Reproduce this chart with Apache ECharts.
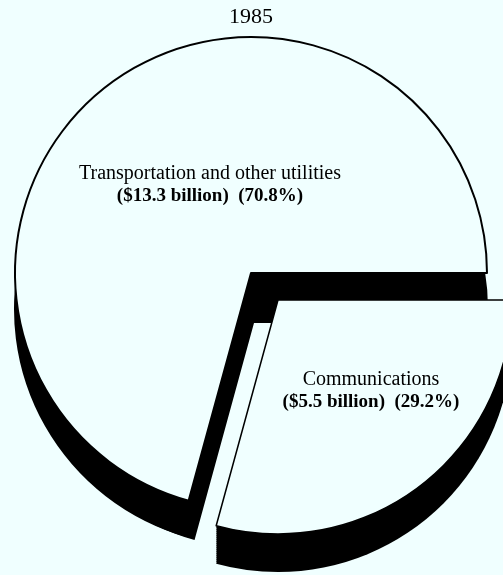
<!DOCTYPE html>
<html><head><meta charset="utf-8">
<style>html,body{margin:0;padding:0;background:#f0ffff}#c{width:503px;height:575px}</style>
<script src="https://cdn.jsdelivr.net/npm/echarts@6/dist/echarts.min.js"></script>
</head><body><div id="c"></div>
<script>
const yearTitle = '1985';
const categories = ['Communications', 'Transportation and other utilities'];
const billions = [5.5, 13.3];
const shares = ['29.2%', '70.8%'];

const BG = '#f0ffff', INK = '#000';
const FONT = '"Liberation Serif","Times New Roman",serif';

function slices(visibleIndex, fill, border, borderW) {
  return categories.map((name, i) => ({
    name, value: billions[i],
    itemStyle: i === visibleIndex
      ? { color: fill, borderColor: border, borderWidth: borderW }
      : { color: 'rgba(0,0,0,0)', borderWidth: 0 }
  }));
}
function pieLayer(cx, cy, r, visibleIndex, fill, border, borderW, z) {
  return {
    type: 'pie', center: [cx, cy], radius: [0, r], startAngle: 0, clockwise: true,
    silent: true, animation: false, z,
    label: { show: false }, labelLine: { show: false },
    emphasis: { disabled: true },
    data: slices(visibleIndex, fill, border, borderW)
  };
}

const series = [];
// main slice extrusion
series.push(pieLayer(251, 309, 237, 1, INK, INK, 0, 1));
series.push(pieLayer(254, 323, 225, 1, INK, INK, 0, 2));
// main slice face
series.push(pieLayer(251, 273, 236, 1, BG, INK, 2, 3));
// exploded slice extrusion
for (let d = 38; d >= 0; d -= 2) {
  series.push(pieLayer(278, 300 + d, 234, 0, INK, INK, 0, 4));
}
// exploded slice face
series.push(pieLayer(278, 300, 234, 0, BG, INK, 1.5, 5));

function sliceTitle(i, x, y) {
  return [
    { text: categories[i], left: x, top: y, textAlign: 'center', padding: 0,
      textStyle: { fontFamily: FONT, fontSize: 20, fontWeight: 'normal', color: INK } },
    { text: '($' + billions[i].toFixed(1) + ' billion)  (' + shares[i] + ')', left: x, top: y + 23, textAlign: 'center', padding: 0,
      textStyle: { fontFamily: FONT, fontSize: 19, fontWeight: 'bold', color: INK } }
  ];
}

const chart = echarts.init(document.getElementById('c'), null, { renderer: 'canvas' });
chart.setOption({
  backgroundColor: BG,
  animation: false,
  title: [
    { text: yearTitle, left: 251, top: 6, textAlign: 'center', padding: 0,
      textStyle: { fontFamily: FONT, fontSize: 22, fontWeight: 'normal', color: INK } },
    ...sliceTitle(1, 210, 164),
    ...sliceTitle(0, 371, 370)
  ],
  series
});
</script></body></html>
